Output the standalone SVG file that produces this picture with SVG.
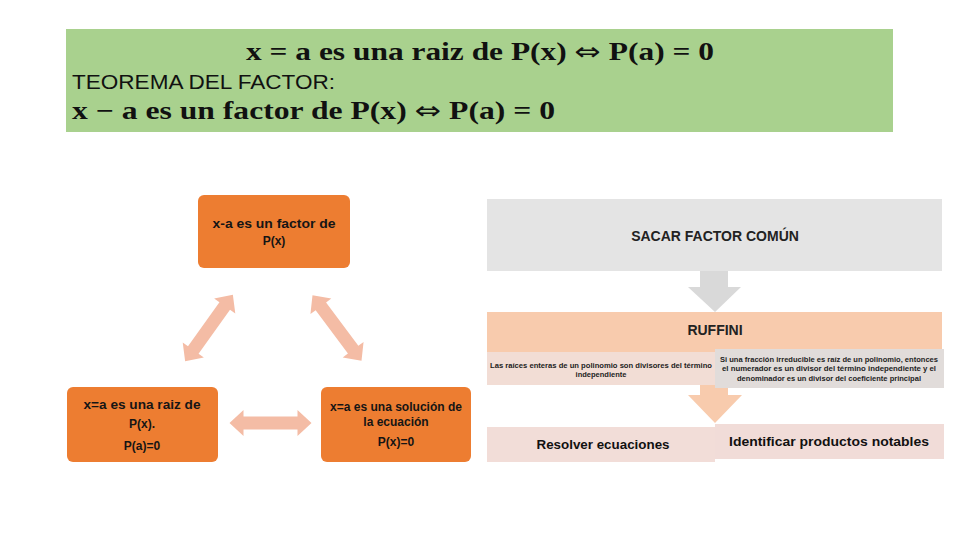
<svg xmlns="http://www.w3.org/2000/svg" width="960" height="540" viewBox="0 0 960 540">
<style>
.math{font-family:"Liberation Serif","DejaVu Serif",serif;font-weight:bold;font-size:25px;fill:#111}
.arr{font-family:"DejaVu Sans",sans-serif;font-weight:normal}
.head{font-family:"Liberation Sans",Arial,sans-serif;font-size:21px;fill:#111}
.ob{fill:#ed7d31}
.ot{font-family:"Liberation Sans",Arial,sans-serif;font-size:12px;font-weight:bold;fill:#151515;text-anchor:middle}
.dbl{fill:#f4bca5}
.lbl{font-family:"Liberation Sans",Arial,sans-serif;font-size:14px;font-weight:bold;fill:#222;text-anchor:middle}
.tiny{font-family:"Liberation Sans",Arial,sans-serif;font-size:7.5px;font-weight:bold;fill:#222;text-anchor:middle}
.bt{font-family:"Liberation Sans",Arial,sans-serif;font-size:13.5px;font-weight:bold;fill:#111;text-anchor:middle}
</style>
<defs>
<path id="dbl" d="M-41,0 L-27,-13 L-27,-6.5 L27,-6.5 L27,-13 L41,0 L27,13 L27,6.5 L-27,6.5 L-27,13 Z"/>
</defs>
<rect width="960" height="540" fill="#ffffff"/>
<g id="theorem">
<rect x="66" y="29" width="827" height="103" fill="#a9d18e"/>
<text class="math" x="480" y="60" text-anchor="middle" textLength="468" lengthAdjust="spacingAndGlyphs">x = a es una raiz de P(x) <tspan class="arr">⇔</tspan> P(a) = 0</text>
<text class="head" x="72" y="89" textLength="263" lengthAdjust="spacingAndGlyphs">TEOREMA DEL FACTOR:</text>
<text class="math" x="72" y="119" textLength="483" lengthAdjust="spacingAndGlyphs">x − a es un factor de P(x) <tspan class="arr">⇔</tspan> P(a) = 0</text>
</g>
<g id="connectors">
<use href="#dbl" class="dbl" transform="translate(209,328) rotate(-54.4)"/>
<use href="#dbl" class="dbl" transform="translate(337,328) rotate(53.3)"/>
<use href="#dbl" class="dbl" transform="translate(270.5,423)"/>
<path d="M700,271 H728 V287 H741 L715,312 L688,287 H700 Z" fill="#d9d9d9"/>
<path d="M700,385 H728 V395 H742 L715,423 L688,395 H700 Z" fill="#f8cbad"/>
</g>
<g id="factor">
<rect class="ob" x="198" y="195" width="152" height="73" rx="6"/>
<text class="ot" x="274" y="228" textLength="123" lengthAdjust="spacingAndGlyphs">x-a es un factor de</text>
<text class="ot" x="274" y="245">P(x)</text>
</g>
<g id="raiz">
<rect class="ob" x="67" y="387" width="151" height="75" rx="6"/>
<text class="ot" x="142" y="409" textLength="117" lengthAdjust="spacingAndGlyphs">x=a es una raiz de</text>
<text class="ot" x="142" y="428">P(x).</text>
<text class="ot" x="142" y="450">P(a)=0</text>
</g>
<g id="solucion">
<rect class="ob" x="321" y="387" width="150" height="75" rx="6"/>
<text class="ot" x="396" y="411" textLength="132" lengthAdjust="spacingAndGlyphs">x=a es una solución de</text>
<text class="ot" x="396" y="426">la ecuación</text>
<text class="ot" x="396" y="446">P(x)=0</text>
</g>
<g id="sacar">
<rect x="487" y="199" width="455" height="72" fill="#e4e4e4"/>
<text class="lbl" x="715" y="241">SACAR FACTOR COMÚN</text>
</g>
<g id="ruffini">
<rect x="487" y="312" width="455" height="40" fill="#f8cbad"/>
<text class="lbl" x="715" y="335">RUFFINI</text>
</g>
<g id="raices-enteras">
<rect x="487" y="352" width="228" height="33" fill="#f2ddd5"/>
<text class="tiny" x="601" y="368" textLength="222" lengthAdjust="spacingAndGlyphs">Las raíces enteras de un polinomio son divisores del término</text>
<text class="tiny" x="601" y="377">independiente</text>
</g>
<g id="fraccion">
<rect x="715" y="349" width="229" height="39" fill="#e1dcda"/>
<text class="tiny" x="829" y="362" textLength="218" lengthAdjust="spacingAndGlyphs">Si una fracción irreducible es raíz de un polinomio, entonces</text>
<text class="tiny" x="829" y="371" textLength="214" lengthAdjust="spacingAndGlyphs">el numerador es un divisor del término independiente y el</text>
<text class="tiny" x="829" y="381" textLength="184" lengthAdjust="spacingAndGlyphs">denominador es un divisor del coeficiente principal</text>
</g>
<g id="resolver">
<rect x="487" y="427" width="228" height="35" fill="#f2ddd8"/>
<text class="bt" x="603" y="449" textLength="133" lengthAdjust="spacingAndGlyphs">Resolver ecuaciones</text>
</g>
<g id="identificar">
<rect x="715" y="424" width="229" height="35" fill="#f1dcd8"/>
<text class="bt" x="829" y="446" textLength="200" lengthAdjust="spacingAndGlyphs">Identificar productos notables</text>
</g>
</svg>
